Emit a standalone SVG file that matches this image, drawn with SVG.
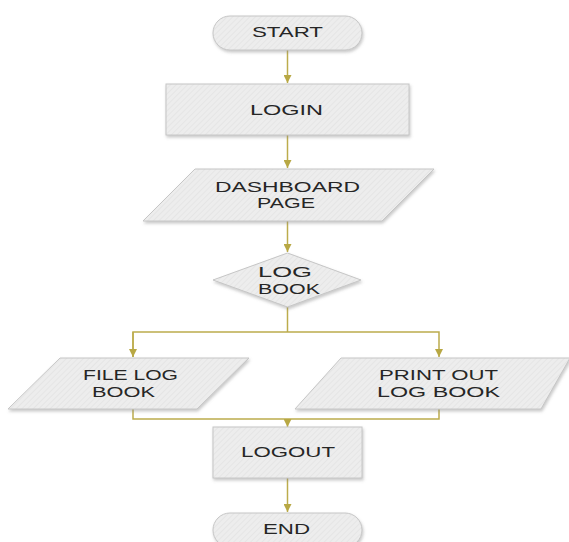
<svg xmlns="http://www.w3.org/2000/svg" width="569" height="542" viewBox="0 0 569 542">
<style>
.shape{fill:url(#hatch);stroke:#c6c6c6;stroke-width:1;filter:url(#shadow)}
.lbl{font-family:"Liberation Sans",Arial,sans-serif;font-size:14.5px;fill:#262626;text-anchor:middle}
.conn{fill:none;stroke:#bcac4c;stroke-width:1.5}
</style>
<defs>
<pattern id="hatch" width="4" height="4" patternUnits="userSpaceOnUse" patternTransform="rotate(45)">
<rect width="4" height="4" fill="#ededed"/>
<line x1="0" y1="0" x2="0" y2="4" stroke="#e3e3e3" stroke-width="1.5"/>
</pattern>
<filter id="shadow" x="-10%" y="-10%" width="125%" height="140%">
<feDropShadow dx="1" dy="2" stdDeviation="1.5" flood-color="#888" flood-opacity="0.45"/>
</filter>
<marker id="arrow" viewBox="0 0 10 10" refX="10" refY="5" markerWidth="8" markerHeight="8" markerUnits="userSpaceOnUse" orient="auto">
<path d="M0,0 L10,5 L0,10 Z" fill="#b8a844"/>
</marker>
</defs>
<g id="connectors">
<line class="conn" x1="287.5" y1="50" x2="287.5" y2="83" marker-end="url(#arrow)"/>
<line class="conn" x1="287.5" y1="135" x2="287.5" y2="168" marker-end="url(#arrow)"/>
<line class="conn" x1="287.5" y1="221" x2="287.5" y2="252" marker-end="url(#arrow)"/>
<polyline class="conn" points="287.5,307 287.5,332"/>
<polyline class="conn" points="133,357 133,332 439,332 439,357" marker-end="url(#arrow)"/>
<line class="conn" x1="133" y1="332" x2="133" y2="357" marker-end="url(#arrow)"/>
<polyline class="conn" points="133,409 133,419 439,419 439,409"/>
<line class="conn" x1="287.5" y1="419" x2="287.5" y2="427" marker-end="url(#arrow)"/>
<line class="conn" x1="287.5" y1="478" x2="287.5" y2="512" marker-end="url(#arrow)"/>
</g>
<g id="start">
<rect class="shape" x="213" y="16" width="149" height="34" rx="17"/>
<text class="lbl" x="287.5" y="37" textLength="71" lengthAdjust="spacingAndGlyphs">START</text>
</g>
<g id="login">
<rect class="shape" x="166" y="84" width="243" height="51"/>
<text class="lbl" x="286.5" y="115" textLength="73" lengthAdjust="spacingAndGlyphs">LOGIN</text>
</g>
<g id="dashboard">
<polygon class="shape" points="195,169 434,169 382,221 143,221"/>
<text class="lbl" x="287.5" y="192" textLength="145" lengthAdjust="spacingAndGlyphs">DASHBOARD</text>
<text class="lbl" x="286" y="208" textLength="58" lengthAdjust="spacingAndGlyphs">PAGE</text>
</g>
<g id="logbook">
<polygon class="shape" points="287.5,253 361,280 287.5,307 213,280"/>
<text class="lbl" x="285" y="277" textLength="54" lengthAdjust="spacingAndGlyphs">LOG</text>
<text class="lbl" x="289" y="294" textLength="62" lengthAdjust="spacingAndGlyphs">BOOK</text>
</g>
<g id="filelogbook">
<polygon class="shape" points="60,358 249,358 197,409 8,409"/>
<text class="lbl" x="130.5" y="380" textLength="95" lengthAdjust="spacingAndGlyphs">FILE LOG</text>
<text class="lbl" x="123.5" y="397" textLength="63" lengthAdjust="spacingAndGlyphs">BOOK</text>
</g>
<g id="printout">
<polygon class="shape" points="341,358 570,358 541,409 295,409"/>
<text class="lbl" x="438.5" y="380" textLength="119" lengthAdjust="spacingAndGlyphs">PRINT OUT</text>
<text class="lbl" x="438.5" y="397" textLength="123" lengthAdjust="spacingAndGlyphs">LOG BOOK</text>
</g>
<g id="logout">
<rect class="shape" x="213" y="427" width="149" height="51"/>
<text class="lbl" x="288" y="457" textLength="94" lengthAdjust="spacingAndGlyphs">LOGOUT</text>
</g>
<g id="end">
<rect class="shape" x="213" y="513" width="149" height="34" rx="17"/>
<text class="lbl" x="286.5" y="534" textLength="47" lengthAdjust="spacingAndGlyphs">END</text>
</g>
</svg>
